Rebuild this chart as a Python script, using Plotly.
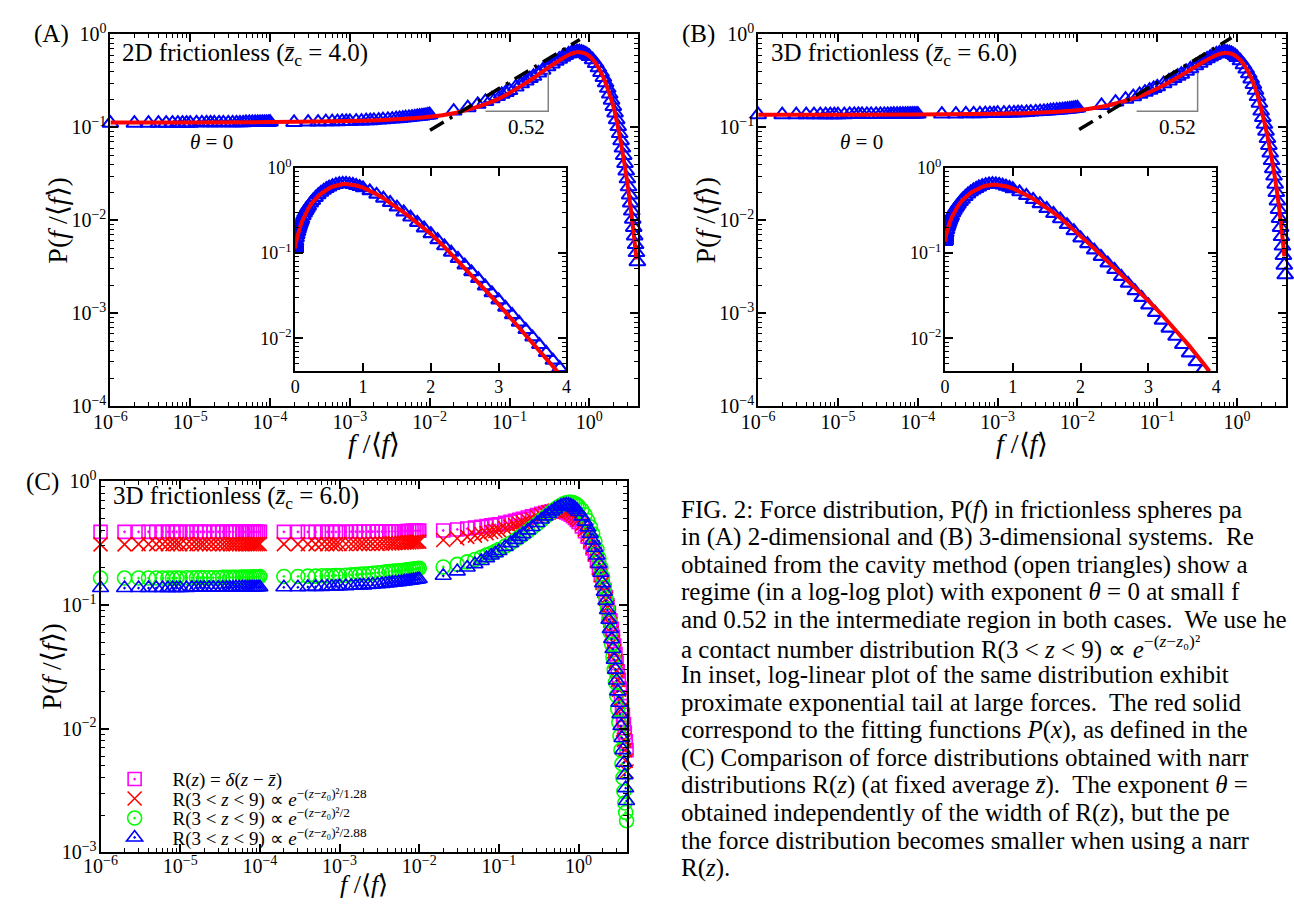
import plotly.graph_objects as go

# ---------------- data ----------------
# force grid: three segments of f/<f>
X1 = [1e-6, 2e-6, 3e-6, 4e-6, 5e-6, 6e-6, 7e-6, 8e-6, 9e-6, 1e-5, 1.2e-5, 1.4e-5, 1.6e-5,
      1.8e-5, 2e-5, 2.3e-5, 2.6e-5, 3e-5, 3.4e-5, 3.8e-5, 4.2e-5, 4.6e-5, 5e-5, 5.5e-5,
      6e-5, 6.5e-5, 7e-5, 7.5e-5, 8e-5, 8.5e-5, 9e-5, 9.5e-5, 1e-4]
X2 = [2e-4, 3e-4, 4e-4, 5e-4, 6e-4, 7e-4, 8e-4, 9e-4, 1e-3, 1.2e-3, 1.4e-3, 1.6e-3, 1.8e-3,
      2e-3, 2.3e-3, 2.6e-3, 3e-3, 3.4e-3, 3.8e-3, 4.2e-3, 4.6e-3, 5e-3, 5.5e-3, 6e-3,
      6.5e-3, 7e-3, 7.5e-3, 8e-3, 8.5e-3, 9e-3, 9.5e-3, 1e-2]
X3 = [0.02, 0.03, 0.04, 0.05, 0.06, 0.07, 0.08, 0.09, 0.10, 0.12, 0.14, 0.16, 0.18, 0.20,
      0.23, 0.26, 0.30, 0.34, 0.38, 0.42, 0.46, 0.50, 0.55, 0.60, 0.65, 0.70, 0.75, 0.80,
      0.85, 0.90, 0.95, 1.0, 1.1, 1.2, 1.3, 1.4, 1.5, 1.6, 1.7, 1.8, 1.9, 2.0, 2.1, 2.2,
      2.3, 2.4, 2.5, 2.6, 2.7, 2.8, 2.9, 3.0, 3.1, 3.2, 3.3, 3.4, 3.5, 3.6, 3.7, 3.8, 3.9, 4.0]

# (A) 2D frictionless, cavity method (open triangles)
A_Y1 = [0.111, 0.111, 0.111, 0.111, 0.111, 0.111, 0.111, 0.111, 0.111, 0.111,
        0.112, 0.112, 0.112, 0.112, 0.112, 0.112, 0.112, 0.112, 0.112, 0.112,
        0.112, 0.112, 0.113, 0.113, 0.113, 0.113, 0.113, 0.113, 0.113, 0.113,
        0.113, 0.113, 0.114]
A_Y2 = [0.113, 0.114, 0.114, 0.115, 0.115, 0.115, 0.116, 0.116, 0.116, 0.117,
        0.117, 0.118, 0.118, 0.119, 0.120, 0.121, 0.122, 0.123, 0.124, 0.125,
        0.126, 0.127, 0.128, 0.129, 0.130, 0.131, 0.132, 0.133, 0.134, 0.135,
        0.136, 0.137]
A_Y3 = [0.150, 0.163, 0.177, 0.190, 0.203, 0.215, 0.227, 0.238, 0.249,
        0.272, 0.294, 0.315, 0.335, 0.355,
        0.385, 0.413, 0.448,
        0.482, 0.513, 0.542, 0.568, 0.592,
        0.617, 0.636, 0.648, 0.654, 0.653, 0.646, 0.634, 0.618, 0.600, 0.580,
        0.535, 0.487, 0.438, 0.390, 0.345, 0.302, 0.263, 0.228, 0.196, 0.168,
        0.143, 0.121, 0.102, 0.086, 0.072, 0.060, 0.050, 0.041, 0.034, 0.028,
        0.023, 0.0188, 0.0154, 0.0126, 0.0103, 0.0084, 0.0068, 0.0055, 0.0045, 0.0036]

# (B) 3D frictionless, cavity method (open triangles); also the blue set of (C)
B_Y1 = [0.137, 0.137, 0.137, 0.137, 0.137, 0.137, 0.137, 0.137, 0.137, 0.137, 0.137,
        0.138, 0.138, 0.138, 0.138, 0.138, 0.138, 0.138, 0.138, 0.138, 0.138, 0.138,
        0.139, 0.139, 0.139, 0.139, 0.139, 0.139, 0.139, 0.139, 0.139, 0.139, 0.139]
B_Y2 = [0.139, 0.139, 0.140, 0.140, 0.140, 0.141, 0.141, 0.141, 0.142, 0.142,
        0.143, 0.143, 0.144, 0.144, 0.145, 0.146, 0.147, 0.148, 0.149, 0.150,
        0.151, 0.152, 0.153, 0.154, 0.155, 0.156, 0.157, 0.158, 0.159, 0.160,
        0.161, 0.162]
B_Y3 = [0.172, 0.187, 0.201, 0.214, 0.227, 0.239, 0.251, 0.262, 0.273,
        0.295, 0.316, 0.336, 0.355, 0.374,
        0.401, 0.427, 0.460,
        0.491, 0.520, 0.547, 0.571, 0.593,
        0.616, 0.633, 0.644, 0.648, 0.645, 0.637, 0.624, 0.607, 0.588, 0.566,
        0.520, 0.472, 0.424, 0.377, 0.332, 0.290, 0.251, 0.215, 0.182, 0.150,
        0.128, 0.108, 0.091, 0.076, 0.064, 0.053, 0.044, 0.036, 0.030, 0.0245,
        0.020, 0.0162, 0.0131, 0.0105, 0.0084, 0.0067, 0.0053, 0.0042, 0.0033, 0.0026]

# (C) R(z) = delta(z - zbar)  (magenta squares)
M_Y1 = [0.390, 0.390, 0.390, 0.390, 0.390, 0.390, 0.390, 0.390, 0.390, 0.390,
        0.390, 0.390, 0.390, 0.390, 0.390, 0.390, 0.390, 0.390, 0.390, 0.390,
        0.390, 0.390, 0.390, 0.390, 0.390, 0.390, 0.390, 0.390, 0.390, 0.390,
        0.390, 0.390, 0.390]
M_Y2 = [0.390, 0.390, 0.390, 0.390, 0.390, 0.390, 0.390, 0.390, 0.390, 0.390,
        0.391, 0.391, 0.391, 0.391, 0.391, 0.391, 0.392, 0.392, 0.392, 0.392,
        0.393, 0.394, 0.394, 0.395, 0.395, 0.396, 0.396, 0.397, 0.397, 0.398,
        0.398, 0.399]
M_Y3 = [0.400, 0.408, 0.415, 0.422, 0.428, 0.434, 0.440, 0.445, 0.450,
        0.461, 0.471, 0.480, 0.489, 0.497,
        0.509, 0.520, 0.533,
        0.545, 0.555, 0.563, 0.569, 0.573,
        0.575, 0.573, 0.568, 0.560, 0.549, 0.536, 0.521, 0.505, 0.488, 0.470,
        0.432, 0.394, 0.357, 0.321, 0.287, 0.255, 0.226, 0.199, 0.175, 0.153,
        0.133, 0.116, 0.100, 0.087, 0.075, 0.064, 0.055, 0.047, 0.040, 0.034,
        0.029, 0.0248, 0.0211, 0.0179, 0.0152, 0.0129, 0.0109, 0.0093, 0.0079, 0.0067]

# (C) R(3<z<9) ~ exp(-(z-z0)^2/1.28)  (red crosses)
R_Y1 = [0.309, 0.309, 0.310, 0.310, 0.310, 0.310, 0.310, 0.310, 0.310, 0.310,
        0.310, 0.310, 0.310, 0.310, 0.310, 0.310, 0.310, 0.310, 0.310, 0.310,
        0.310, 0.310, 0.310, 0.310, 0.310, 0.310, 0.310, 0.310, 0.310, 0.310,
        0.310, 0.311, 0.311]
R_Y2 = [0.310, 0.310, 0.310, 0.310, 0.310, 0.310, 0.310, 0.310, 0.311, 0.311,
        0.311, 0.311, 0.311, 0.312, 0.312, 0.312, 0.312, 0.313, 0.314, 0.314,
        0.315, 0.316, 0.317, 0.318, 0.319, 0.320, 0.321, 0.322, 0.323, 0.324,
        0.325, 0.325]
R_Y3 = [0.335, 0.345, 0.355, 0.364, 0.373, 0.381, 0.389, 0.396, 0.403,
        0.417, 0.430, 0.442, 0.454, 0.465,
        0.481, 0.496, 0.514,
        0.531, 0.546, 0.559, 0.570, 0.579,
        0.586, 0.589, 0.587, 0.581, 0.572, 0.559, 0.544, 0.527, 0.509, 0.490,
        0.450, 0.409, 0.369, 0.330, 0.294, 0.260, 0.229, 0.200, 0.174, 0.151,
        0.130, 0.112, 0.096, 0.082, 0.070, 0.059, 0.050, 0.042, 0.035, 0.0295,
        0.0247, 0.0206, 0.0172, 0.0143, 0.0119, 0.0098, 0.0081, 0.0067, 0.0055, 0.0045]

# (C) R(3<z<9) ~ exp(-(z-z0)^2/2)  (green circles)
G_Y1 = [0.165, 0.165, 0.165, 0.165, 0.165, 0.165, 0.165, 0.165, 0.165, 0.165,
        0.166, 0.166, 0.166, 0.166, 0.166, 0.166, 0.166, 0.166, 0.167, 0.167,
        0.167, 0.167, 0.167, 0.167, 0.168, 0.168, 0.168, 0.168, 0.168, 0.169,
        0.169, 0.169, 0.170]
G_Y2 = [0.170, 0.170, 0.171, 0.171, 0.172, 0.172, 0.172, 0.173, 0.173, 0.174,
        0.175, 0.176, 0.177, 0.178, 0.179, 0.180, 0.182, 0.183, 0.185, 0.186,
        0.187, 0.188, 0.189, 0.190, 0.191, 0.192, 0.193, 0.194, 0.195, 0.196,
        0.197, 0.198]
G_Y3 = [0.203, 0.213, 0.223, 0.233, 0.243, 0.253, 0.262, 0.271, 0.280,
        0.299, 0.317, 0.335, 0.353, 0.370,
        0.395, 0.420, 0.452,
        0.484, 0.514, 0.542, 0.568, 0.592,
        0.619, 0.641, 0.659, 0.671, 0.677, 0.677, 0.672, 0.662, 0.647, 0.629,
        0.585, 0.535, 0.482, 0.428, 0.376, 0.327, 0.281, 0.239, 0.201, 0.168,
        0.139, 0.114, 0.093, 0.075, 0.060, 0.048, 0.038, 0.030, 0.0236, 0.0185,
        0.0144, 0.0112, 0.0087, 0.0067, 0.0052, 0.0040, 0.0031, 0.0025, 0.0021, 0.0018]

# red fitting functions P(x) for (A) and (B)
FIT_X = [1e-6, 1e-5, 1e-4, 1e-3, 3e-3, 0.01, 0.02, 0.03, 0.05, 0.07, 0.1, 0.15, 0.2, 0.25,
         0.3, 0.35, 0.4, 0.45, 0.5, 0.55, 0.6, 0.65, 0.7, 0.75, 0.8, 0.9, 1.0, 1.1, 1.2,
         1.3, 1.4, 1.5, 1.6, 1.7, 1.8, 1.9, 2.0, 2.2, 2.4, 2.6, 2.8, 3.0, 3.2, 3.4, 3.6,
         3.8, 3.9]
FIT_A = [0.113, 0.113, 0.114, 0.117, 0.121,
         0.130, 0.142, 0.155, 0.178, 0.200,
         0.235, 0.290, 0.340, 0.390, 0.435, 0.475, 0.510, 0.545, 0.575, 0.600, 0.620,
         0.635, 0.645, 0.645, 0.640,
         0.620, 0.585,
         0.540, 0.490, 0.440, 0.390, 0.345, 0.300, 0.260, 0.225, 0.195, 0.168,
         0.118, 0.081, 0.055, 0.037, 0.025, 0.0165, 0.011, 0.0072, 0.0047,
         0.0038]
FIT_B = [0.137, 0.137, 0.138, 0.140, 0.144,
         0.153, 0.167, 0.181, 0.205, 0.228,
         0.262, 0.315, 0.365, 0.410, 0.450, 0.487, 0.520, 0.550, 0.576, 0.598, 0.615,
         0.627, 0.633, 0.633, 0.628,
         0.607, 0.572,
         0.528, 0.481, 0.433, 0.386, 0.341, 0.298, 0.259, 0.222, 0.189, 0.158,
         0.113, 0.080, 0.0565, 0.0395, 0.0275, 0.0188, 0.0126, 0.0082, 0.0052,
         0.0041]

# slope-0.52 guide (dash-dot) and slope triangle
SLOPE_A_X = [0.0101, 0.76]
SLOPE_A_Y = [0.093, 0.88]
SLOPE_B_X = [0.0105, 0.85]
SLOPE_B_Y = [0.095, 0.92]
TRI_A_X = [0.050, 0.306, 0.306]
TRI_A_Y = [0.149, 0.149, 0.39]
TRI_B_X = [0.055, 0.320, 0.320]
TRI_B_Y = [0.149, 0.149, 0.39]

# tick labels
XT_VALS = [1e-6, 1e-5, 1e-4, 1e-3, 1e-2, 1e-1, 1]
XT_TEXT = ["10<sup>−6</sup>", "10<sup>−5</sup>", "10<sup>−4</sup>", "10<sup>−3</sup>",
           "10<sup>−2</sup>", "10<sup>−1</sup>", "10<sup>0</sup>"]
YT_VALS_AB = [1e-4, 1e-3, 1e-2, 1e-1, 1]
YT_TEXT_AB = ["10<sup>−4</sup>", "10<sup>−3</sup>", "10<sup>−2</sup>", "10<sup>−1</sup>", "10<sup>0</sup>"]
YT_VALS_C = [1e-3, 1e-2, 1e-1, 1]
YT_TEXT_C = ["10<sup>−3</sup>", "10<sup>−2</sup>", "10<sup>−1</sup>", "10<sup>0</sup>"]
YT_VALS_IN = [1e-2, 1e-1, 1]
YT_TEXT_IN = ["10<sup>−2</sup>", "10<sup>−1</sup>", "10<sup>0</sup>"]
XT_VALS_IN = [0, 1, 2, 3, 4]
XT_TEXT_IN = ["0", "1", "2", "3", "4"]

LEGEND_NAMES = [
    "R(<i>z</i>) = <i>δ</i>(<i>z</i> − <i>z̄</i>)",
    "R(3 &lt; <i>z</i> &lt; 9) ∝ <i>e</i><sup>−(<i>z</i>−<i>z</i>₀)²/1.28</sup>",
    "R(3 &lt; <i>z</i> &lt; 9) ∝ <i>e</i><sup>−(<i>z</i>−<i>z</i>₀)²/2</sup>",
    "R(3 &lt; <i>z</i> &lt; 9) ∝ <i>e</i><sup>−(<i>z</i>−<i>z</i>₀)²/2.88</sup>",
]

CAPTION = [
    "FIG. 2: Force distribution, P(<i>f</i>) in frictionless spheres pa",
    "in (A) 2-dimensional and (B) 3-dimensional systems.  Re",
    "obtained from the cavity method (open triangles) show a",
    "regime (in a log-log plot) with exponent <i>θ</i> = 0 at small f",
    "and 0.52 in the intermediate region in both cases.  We use he",
    "a contact number distribution R(3 &lt; <i>z</i> &lt; 9) ∝ <i>e</i><sup>−(<i>z</i>−<i>z</i>₀)²</sup>",
    "In inset, log-linear plot of the same distribution exhibit",
    "proximate exponential tail at large forces.  The red solid",
    "correspond to the fitting functions <i>P</i>(<i>x</i>), as defined in the",
    "(C) Comparison of force distributions obtained with narr",
    "distributions R(<i>z</i>) (at fixed average <i>z̄</i>).  The exponent <i>θ</i> =",
    "obtained independently of the width of R(<i>z</i>), but the pe",
    "the force distribution becomes smaller when using a narr",
    "R(<i>z</i>).",
]

# ---------------- geometry ----------------
W, H = 1294, 909
FONT = "Liberation Serif, Times New Roman, serif"


def dx(a, b):
    return [a / W, b / W]


def dy(top, bottom):
    return [1 - bottom / H, 1 - top / H]


def minor_log(lo, hi):
    vals = []
    for e in range(lo, hi):
        for m in range(2, 10):
            vals.append(m * 10.0 ** e)
    return vals


def axis(domain, anchor, typ, rng, tv, tt, minor_vals, fsize, standoff):
    d = dict(domain=domain, anchor=anchor, type=typ, range=rng,
             tickmode="array", tickvals=tv, ticktext=tt,
             ticks="inside", ticklen=8, tickwidth=1.5, tickcolor="black",
             showline=True, linewidth=2, linecolor="black", mirror="ticks",
             showgrid=False, zeroline=False, ticklabelstandoff=standoff,
             tickfont=dict(size=fsize, color="black", family=FONT))
    if minor_vals:
        d["minor"] = dict(tickmode="array", tickvals=minor_vals, ticks="inside",
                          ticklen=4, tickwidth=1.2, tickcolor="black", showgrid=False)
    return d


fig = go.Figure()

XALL = X1 + X2 + X3
A_ALL = A_Y1 + A_Y2 + A_Y3
B_ALL = B_Y1 + B_Y2 + B_Y3
M_ALL = M_Y1 + M_Y2 + M_Y3
R_ALL = R_Y1 + R_Y2 + R_Y3
G_ALL = G_Y1 + G_Y2 + G_Y3

BLUE = "#0000ff"
RED = "#ff0000"


def panel(xa, ya, yvals, fit, sx, sy, tx, ty, xi, yi):
    fig.add_trace(go.Scatter(x=XALL, y=yvals, mode="markers", xaxis=xa, yaxis=ya,
                             marker=dict(symbol="triangle-up-open", size=14, color=BLUE,
                                         line=dict(width=2, color=BLUE)),
                             cliponaxis=False, showlegend=False))
    fig.add_trace(go.Scatter(x=FIT_X, y=fit, mode="lines", xaxis=xa, yaxis=ya,
                             line=dict(color=RED, width=4, shape="spline"), showlegend=False))
    fig.add_trace(go.Scatter(x=sx, y=sy, mode="lines", xaxis=xa, yaxis=ya,
                             line=dict(color="black", width=3.5, dash="16px,7px,3px,7px"),
                             showlegend=False))
    fig.add_trace(go.Scatter(x=tx, y=ty, mode="lines", xaxis=xa, yaxis=ya,
                             line=dict(color="#808080", width=1.5), showlegend=False))
    # inset (log-linear)
    fig.add_trace(go.Scatter(x=XALL, y=yvals, mode="markers", xaxis=xi, yaxis=yi,
                             marker=dict(symbol="triangle-up-open", size=13, color=BLUE,
                                         line=dict(width=2.2, color=BLUE)),
                             cliponaxis=True, showlegend=False))
    fig.add_trace(go.Scatter(x=FIT_X, y=fit, mode="lines", xaxis=xi, yaxis=yi,
                             line=dict(color=RED, width=4), cliponaxis=True, showlegend=False))


panel("x", "y", A_ALL, FIT_A, SLOPE_A_X, SLOPE_A_Y, TRI_A_X, TRI_A_Y, "x4", "y4")
panel("x2", "y2", B_ALL, FIT_B, SLOPE_B_X, SLOPE_B_Y, TRI_B_X, TRI_B_Y, "x5", "y5")

# panel C (each series in its own legend box so entries can sit close together)
C_SERIES = [
    (M_ALL, "square-open-dot", "#ff00ff", 13),
    (R_ALL, "x-thin-open", RED, 14),
    (G_ALL, "circle-open-dot", "#00ff00", 14),
    (B_ALL, "triangle-up-open-dot", BLUE, 14),
]
LEG_IDS = ["legend", "legend2", "legend3", "legend4"]
for (yv, sym, col, sz), name, lid in zip(C_SERIES, LEGEND_NAMES, LEG_IDS):
    fig.add_trace(go.Scatter(x=XALL, y=yv, mode="markers", xaxis="x3", yaxis="y3", name=name,
                             marker=dict(symbol=sym, size=sz, color=col,
                                         line=dict(width=1.6, color=col)),
                             cliponaxis=False, showlegend=True, legend=lid))

LOGX_RANGE = [-6, 0.613]
MX = minor_log(-6, 1)
MX = [v for v in MX if v <= 4.1]
MY_AB = minor_log(-4, 0)
MY_C = minor_log(-3, 0)
MY_IN = [v for v in minor_log(-3, 0) if v >= 0.0041]

layout = dict(
    width=W, height=H, margin=dict(l=0, r=0, t=0, b=0),
    paper_bgcolor="white", plot_bgcolor="white",
    font=dict(family=FONT, color="black"),
    xaxis=axis(dx(95, 632), "y", "log", LOGX_RANGE, XT_VALS, XT_TEXT, MX, 20, -3),
    yaxis=axis(dy(22, 404), "x", "log", [-4, 0], YT_VALS_AB, YT_TEXT_AB, MY_AB, 20, -2),
    xaxis2=axis(dx(754, 1291), "y2", "log", LOGX_RANGE, XT_VALS, XT_TEXT, MX, 20, -3),
    yaxis2=axis(dy(22, 404), "x2", "log", [-4, 0], YT_VALS_AB, YT_TEXT_AB, MY_AB, 20, -2),
    xaxis3=axis(dx(85, 621), "y3", "log", LOGX_RANGE, XT_VALS, XT_TEXT, MX, 20, -5),
    yaxis3=axis(dy(481, 862), "x3", "log", [-3, 0], YT_VALS_C, YT_TEXT_C, MY_C, 20, -2),
    xaxis4=axis(dx(283, 559), "y4", "linear", [0, 4], XT_VALS_IN, XT_TEXT_IN, None, 18, -2),
    yaxis4=axis(dy(159, 368), "x4", "log", [-2.387, 0], YT_VALS_IN, YT_TEXT_IN, MY_IN, 18, -2),
    xaxis5=axis(dx(944, 1220), "y5", "linear", [0, 4], XT_VALS_IN, XT_TEXT_IN, None, 18, -2),
    yaxis5=axis(dy(159, 368), "x5", "log", [-2.387, 0], YT_VALS_IN, YT_TEXT_IN, MY_IN, 18, -2),
)
LEG_ROWS = [787, 807, 827, 847]
for lid, yc in zip(LEG_IDS, LEG_ROWS):
    layout[lid] = dict(x=81 / W, y=1 - yc / H, xanchor="left", yanchor="middle",
                       font=dict(size=19, family=FONT, color="black"), itemwidth=66,
                       bgcolor="rgba(0,0,0,0)", borderwidth=0)
fig.update_layout(**layout)

annotations = []


def ann(text, xp, yp, size, xanchor="center", angle=0):
    annotations.append(dict(text=text, x=xp / W, y=1 - yp / H, xref="paper", yref="paper",
                            xanchor=xanchor, yanchor="middle", showarrow=False,
                            textangle=angle, font=dict(size=size, family=FONT, color="black")))


# panel letters
ann("(A)", 35, 22, 25)
ann("(B)", 693, 22, 25)
ann("(C)", 26, 482, 25)
# panel titles
ann("2D frictionless (<i>z̄</i><sub>c</sub> = 4.0)", 105, 43, 25, "left")
ann("3D frictionless (<i>z̄</i><sub>c</sub> = 6.0)", 765, 43, 25, "left")
ann("3D frictionless (<i>z̄</i><sub>c</sub> = 6.0)", 96, 498, 25, "left")
# exponent labels
ann("<i>θ</i> = 0", 198, 132, 21)
ann("<i>θ</i> = 0", 859, 132, 21)
ann("0.52", 518, 117, 21)
ann("0.52", 1181, 117, 21)
# axis titles
YT = "P(<i>f</i> /⟨<i>f</i>⟩)"
XTT = "<i>f</i> /⟨<i>f</i>⟩"
ann(YT, 41, 213, 28, angle=-90)
ann(YT, 700, 213, 28, angle=-90)
ann(YT, 35, 671, 28, angle=-90)
ann(XTT, 363, 442, 28)
ann(XTT, 1022, 442, 28)
ann(XTT, 353, 895, 26)
# caption
for i, line in enumerate(CAPTION):
    ann(line, 673, 510 + i * 28.3, 25, "left")

fig.update_layout(annotations=annotations)

fig.write_html("out.html", config={"displayModeBar": False},
               post_script="document.body.style.margin='0';document.body.style.overflow='hidden';")
